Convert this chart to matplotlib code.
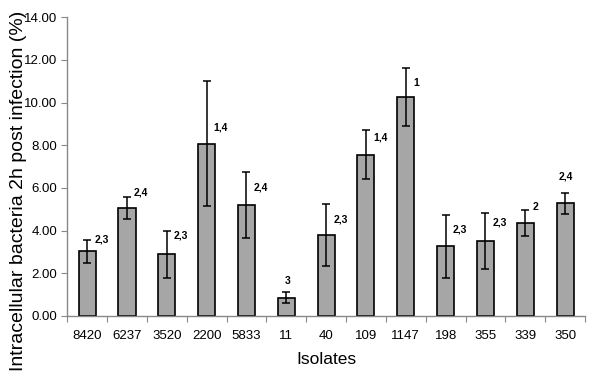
import matplotlib.pyplot as plt
import numpy as np

plt.rcParams['font.family'] = ['Liberation Sans', 'DejaVu Sans']

# --- Data ---
isolates = ['8420', '6237', '3520', '2200', '5833', '11', '40', '109', '1147', '198', '355', '339', '350']
means = [3.03, 5.04, 2.89, 8.08, 5.21, 0.85, 3.80, 7.56, 10.26, 3.27, 3.51, 4.36, 5.28]
errs = [0.53, 0.51, 1.09, 2.91, 1.55, 0.26, 1.46, 1.15, 1.36, 1.47, 1.32, 0.62, 0.50]
groups = ['2,3', '2,4', '2,3', '1,4', '2,4', '3', '2,3', '1,4', '1', '2,3', '2,3', '2', '2,4']
label_y = [3.56, 5.77, 3.76, 8.85, 6.00, 1.64, 4.53, 8.37, 10.90, 4.04, 4.37, 5.12, 6.52]

# --- Plot ---
fig = plt.figure(figsize=(6.0, 3.82), dpi=100)
ax = fig.add_axes([0.112, 0.173, 0.863, 0.782])

x = np.arange(len(isolates))
ax.bar(x, means, width=0.43, color='#A6A6A6', edgecolor='black', linewidth=1.2, zorder=2)
ax.errorbar(x, means, yerr=errs, fmt='none', ecolor='black', elinewidth=1.1,
            capsize=2.8, capthick=1.1, zorder=3)

for i, (g, ly) in enumerate(zip(groups, label_y)):
    if i in (5, 12):  # labels sitting straight above the bar
        ax.text(i + 0.03, ly, g, ha='center', va='center', fontsize=7.5, fontweight='bold')
    else:
        ax.text(i + 0.18, ly, g, ha='left', va='center', fontsize=7.5, fontweight='bold')

ax.set_xlim(-0.5, len(isolates) - 0.5)
ax.set_ylim(0, 14)
ax.set_yticks(np.arange(0, 14.01, 2))
ax.set_yticklabels(['%.2f' % v for v in np.arange(0, 14.01, 2)], fontsize=9.5)

# category labels between boundary ticks
ax.set_xticks(np.arange(-0.5, len(isolates), 1.0))
ax.set_xticklabels([])
ax.set_xticks(x, minor=True)
ax.set_xticklabels(isolates, minor=True, fontsize=9.5)
ax.tick_params(axis='x', which='minor', length=0, pad=10)
ax.tick_params(axis='x', which='major', length=4, color='#888888')
ax.tick_params(axis='y', length=4, color='#888888', pad=3)

for s in ['top', 'right']:
    ax.spines[s].set_visible(False)
for s in ['left', 'bottom']:
    ax.spines[s].set_color('#888888')
    ax.spines[s].set_linewidth(1.0)

ax.set_ylabel('Intracellular bacteria 2h post infection (%)', fontsize=14)
ax.yaxis.set_label_coords(-0.077, 0.418)
ax.set_xlabel('Isolates', fontsize=12.5, labelpad=7)

fig.savefig('out.png', dpi=100)
